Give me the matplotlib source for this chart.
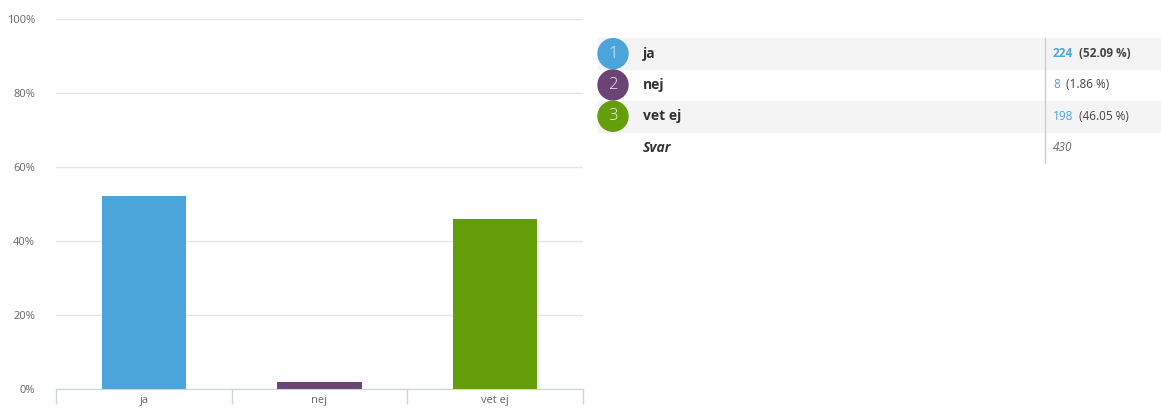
import matplotlib
matplotlib.use("Agg")
import matplotlib.pyplot as plt
from matplotlib.patches import Rectangle, Circle

# | Data |
categories = ["ja", "nej", "vet ej"]
counts = [224, 8, 198]
percents = [52.09, 1.86, 46.05]
total = 430
colors = ["#4ba4da", "#6b4474", "#649e0b"]
y_ticks = [0, 20, 40, 60, 80, 100]

plt.rcParams["font.family"] = ["Open Sans", "DejaVu Sans"]

W, H = 1161, 411
fig = plt.figure(figsize=(W / 100, H / 100), dpi=100)

# | Bar chart |
ax = fig.add_axes([56 / W, (H - 389) / H, 527 / W, 370 / H])
x = range(len(categories))
ax.bar(x, percents, width=0.48, color=colors, zorder=3)
ax.set_xlim(-0.5, len(categories) - 0.5)
ax.set_ylim(0, 100)
ax.set_yticks(y_ticks)
ax.set_yticklabels([f"{t}%" for t in y_ticks])
ax.yaxis.grid(True, color="#e6e6e6", linewidth=1, zorder=0)
ax.set_xticks([i - 0.5 for i in range(len(categories) + 1)], minor=False)
ax.set_xticklabels([""] * (len(categories) + 1))
ax.set_xticks(list(x), minor=True)
ax.set_xticklabels(categories, minor=True)
ax.tick_params(axis="x", which="major", length=11, color="#c8d4e4", width=1)
ax.tick_params(axis="x", which="minor", length=0, pad=4, labelsize=8, labelcolor="#666666")
ax.tick_params(axis="y", length=0, pad=15, labelsize=8, labelcolor="#666666")
for side in ["top", "right", "left"]:
    ax.spines[side].set_visible(False)
ax.spines["bottom"].set_color("#c8d4e4")
ax.spines["bottom"].set_zorder(4)

# | Table |
tab = fig.add_axes([0, 0, 1, 1])
tab.set_xlim(0, W)
tab.set_ylim(H, 0)
tab.axis("off")
tab.patch.set_alpha(0)

row_top = 38
row_h = 31.3
for n, cat in enumerate(categories):
    y0 = row_top + n * row_h
    yc = y0 + row_h / 2
    if n % 2 == 0:
        tab.add_patch(Rectangle((598, y0), W - 598, row_h, color="#f4f4f4", zorder=1))
    tab.add_patch(Circle((613, yc), 15, color=colors[n], zorder=2))
    tab.text(613, yc, str(n + 1), color="#f0f0f0", fontsize=12, fontweight="light",
             ha="center", va="center", zorder=3)
    tab.text(643, yc, cat, color="#333333", fontsize=10, fontweight="bold", ha="left", va="center", zorder=3)
    weight = "bold" if n == 0 else "normal"
    num = tab.text(1053, yc, str(counts[n]), color="#4ba4da", fontsize=8.5, fontweight=weight,
                   ha="left", va="center", zorder=3)
    tab.annotate(f"  ({percents[n]:.2f} %)", xycoords=num, xy=(1, 0.5), va="center", ha="left",
                 color="#444444", fontsize=8.5, fontweight=weight, zorder=3)

y_svar = row_top + 3 * row_h + row_h / 2
tab.text(643, y_svar, "Svar", color="#333333", fontsize=10, fontweight="bold", style="italic",
         ha="left", va="center")
tab.text(1053, y_svar, str(total), color="#666666", fontsize=8.5, style="italic", ha="left", va="center")
tab.plot([1045, 1045], [row_top, row_top + 4 * row_h], color="#cccccc", linewidth=1, zorder=4)

fig.savefig("out.png", dpi=100)
